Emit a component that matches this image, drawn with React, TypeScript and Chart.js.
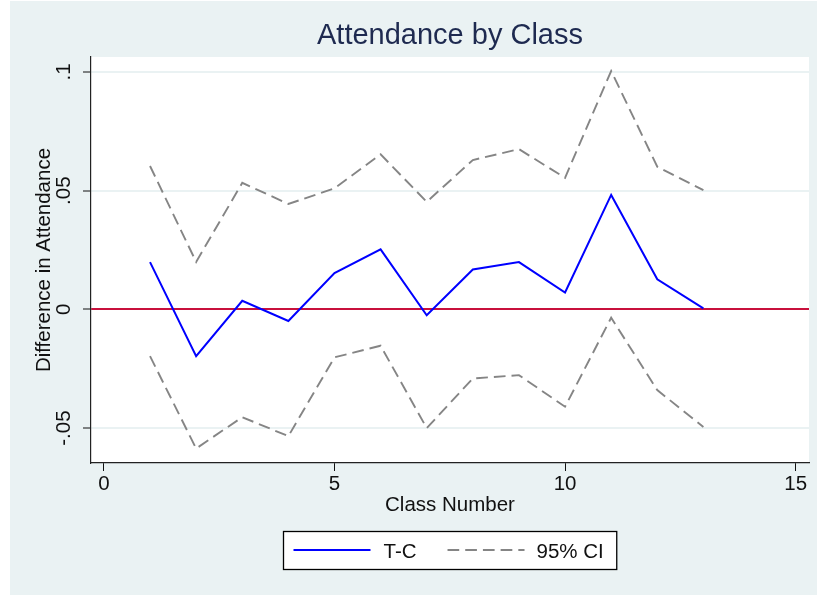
import React, { useEffect, useRef } from 'react';
import { Chart, registerables } from 'chart.js';

Chart.register(...registerables);

const classNumbers = [1, 2, 3, 4, 5, 6, 7, 8, 9, 10, 11, 12, 13];
const diffTC = [0.0199, -0.0197, 0.0036, -0.0049, 0.0153, 0.0253, -0.0025, 0.0168, 0.0199, 0.0071, 0.0482, 0.0127, 0.0004];
const ciUpper = [0.0604, 0.02, 0.0533, 0.0444, 0.051, 0.0653, 0.0453, 0.0629, 0.0675, 0.0554, 0.1004, 0.0601, 0.0502];
const ciLower = [-0.0197, -0.0586, -0.0454, -0.0534, -0.0202, -0.0153, -0.05, -0.0291, -0.0277, -0.041, -0.0035, -0.034, -0.0495];
const xTickValues = [0, 5, 10, 15];
const yTickValues = [-0.05, 0, 0.05, 0.1];
const legendLabels = ['T-C', '95% CI'];
const titleText = 'Attendance by Class';
const xTitle = 'Class Number';
const yTitle = 'Difference in Attendance';

const FONT = '"Liberation Sans", Arial, Helvetica, sans-serif';
const BG = '#EAF2F3';
const BLUE = '#0000FF';
const GRAY = '#858585';
const RED = '#C8103C';
const INK = '#111111';
const LABEL_SIZE = 20.5;

const fmt = (v: number) => {
  if (Math.abs(v) < 1e-12) return '0';
  const s = String(Math.round(v * 1000) / 1000);
  return s.replace('0.', '.');
};

const bgPlugin = {
  id: 'bgPlugin',
  beforeDraw(chart: any) {
    const { ctx, chartArea } = chart;
    ctx.save();
    ctx.fillStyle = BG;
    ctx.fillRect(0, 0, chart.width, chart.height);
    ctx.fillStyle = '#FFFFFF';
    ctx.fillRect(chartArea.left, chartArea.top, chartArea.right - chartArea.left, chartArea.bottom - chartArea.top);
    ctx.restore();
  },
};

const legendPlugin = {
  id: 'boxLegend',
  afterDraw(chart: any) {
    const { ctx, chartArea } = chart;
    const ds = chart.data.datasets;
    ctx.save();
    ctx.font = `${LABEL_SIZE}px ${FONT}`;
    const w1 = ctx.measureText(legendLabels[0]).width;
    const w2 = ctx.measureText(legendLabels[1]).width;
    const padL = 10, sample1 = 77, gap1 = 13, mid = 31, sample2 = 77, gap2 = 12, padR = 13;
    const total = padL + sample1 + gap1 + w1 + mid + sample2 + gap2 + w2 + padR;
    const cx = (chartArea.left + chartArea.right) / 2;
    const left = Math.round(cx - total / 2) + 0.5;
    const top = Math.round(chartArea.bottom + 68) + 0.5;
    const h = 38;
    ctx.fillStyle = '#FFFFFF';
    ctx.fillRect(left, top, total, h);
    ctx.strokeStyle = '#000000';
    ctx.lineWidth = 1.3;
    ctx.strokeRect(left, top, total, h);
    const ly = top + 18.5;
    let x = left + padL;
    ctx.strokeStyle = ds[0].borderColor;
    ctx.lineWidth = ds[0].borderWidth;
    ctx.setLineDash([]);
    ctx.beginPath();
    ctx.moveTo(x, ly);
    ctx.lineTo(x + sample1, ly);
    ctx.stroke();
    x += sample1 + gap1;
    ctx.fillStyle = INK;
    ctx.textBaseline = 'alphabetic';
    ctx.textAlign = 'left';
    ctx.fillText(legendLabels[0], x, top + 26.5);
    x += w1 + mid;
    ctx.strokeStyle = ds[1].borderColor;
    ctx.lineWidth = ds[1].borderWidth;
    ctx.setLineDash(ds[1].borderDash);
    ctx.beginPath();
    ctx.moveTo(x, ly);
    ctx.lineTo(x + sample2, ly);
    ctx.stroke();
    ctx.setLineDash([]);
    x += sample2 + gap2;
    ctx.fillText(legendLabels[1], x, top + 26.5);
    ctx.restore();
  },
};

export default function App() {
  const ref = useRef<HTMLCanvasElement | null>(null);

  useEffect(() => {
    document.body.style.margin = '0';
    const canvas = ref.current;
    if (!canvas) return;
    const toPts = (ys: number[]) => classNumbers.map((c, i) => ({ x: c, y: ys[i] }));
    const dash = [11.7, 6];
    const chart = new Chart(canvas, {
      type: 'line',
      data: {
        datasets: [
          {
            label: legendLabels[0],
            data: toPts(diffTC),
            borderColor: BLUE,
            borderWidth: 2,
            pointRadius: 0,
            tension: 0,
            fill: false,
            borderJoinStyle: 'miter',
          },
          {
            label: legendLabels[1],
            data: toPts(ciUpper),
            borderColor: GRAY,
            borderWidth: 1.9,
            borderDash: dash,
            pointRadius: 0,
            tension: 0,
            fill: false,
            borderJoinStyle: 'miter',
          },
          {
            label: legendLabels[1] + ' lower',
            data: toPts(ciLower),
            borderColor: GRAY,
            borderWidth: 1.9,
            borderDash: dash,
            pointRadius: 0,
            tension: 0,
            fill: false,
            borderJoinStyle: 'miter',
          },
        ],
      },
      options: {
        animation: false,
        responsive: false,
        maintainAspectRatio: false,
        layout: { padding: { top: 0, left: 0, right: 8, bottom: 73 } },
        font: { family: FONT },
        plugins: {
          legend: { display: false },
          tooltip: { enabled: false },
          title: {
            display: true,
            text: titleText,
            fullSize: false,
            color: '#1E2A50',
            font: { family: FONT, size: 29, weight: 'normal' },
            padding: { top: 17.6, bottom: 3.6 },
          },
        },
        scales: {
          x: {
            type: 'linear',
            position: 'bottom',
            min: -0.28,
            max: 15.29,
            afterBuildTicks: (s: any) => {
              s.ticks = xTickValues.map((v) => ({ value: v }));
            },
            afterFit: (s: any) => {
              s.height = 59;
            },
            grid: {
              display: true,
              drawOnChartArea: false,
              drawTicks: true,
              tickLength: 8,
              tickColor: INK,
              tickWidth: 1,
            },
            border: { display: true, color: '#222222', width: 1.2 },
            ticks: {
              autoSkip: false,
              maxRotation: 0,
              minRotation: 0,
              padding: 0.7,
              color: INK,
              font: { family: FONT, size: LABEL_SIZE },
              callback: (v: any) => fmt(Number(v)),
            },
            title: {
              display: true,
              text: xTitle,
              color: INK,
              font: { family: FONT, size: LABEL_SIZE },
              padding: { top: 0, bottom: 4 },
            },
          },
          y: {
            type: 'linear',
            position: 'left',
            min: -0.0647,
            max: 0.1063,
            afterBuildTicks: (s: any) => {
              s.ticks = yTickValues.map((v) => ({ value: v }));
            },
            afterFit: (s: any) => {
              s.width = 81;
            },
            grid: {
              display: true,
              drawOnChartArea: true,
              drawTicks: true,
              tickLength: 8,
              tickColor: INK,
              tickWidth: 1,
              color: (c: any) => (c.tick && Math.abs(c.tick.value) < 1e-12 ? RED : BG),
              lineWidth: 2,
            },
            border: { display: true, color: '#222222', width: 1.2 },
            ticks: {
              autoSkip: false,
              minRotation: 90,
              maxRotation: 90,
              crossAlign: 'center',
              padding: 1,
              color: INK,
              font: { family: FONT, size: LABEL_SIZE },
              callback: (v: any) => fmt(Number(v)),
            },
            title: {
              display: true,
              text: yTitle,
              color: INK,
              font: { family: FONT, size: LABEL_SIZE },
              padding: { top: 22.5, bottom: 0 },
            },
          },
        },
      },
      plugins: [bgPlugin, legendPlugin],
    } as any);
    return () => chart.destroy();
  }, []);

  return (
    <div style={{ position: 'absolute', left: 10, top: 1, width: 807, height: 594 }}>
      <canvas ref={ref} width={807} height={594} style={{ width: 807, height: 594, display: 'block' }} />
    </div>
  );
}
